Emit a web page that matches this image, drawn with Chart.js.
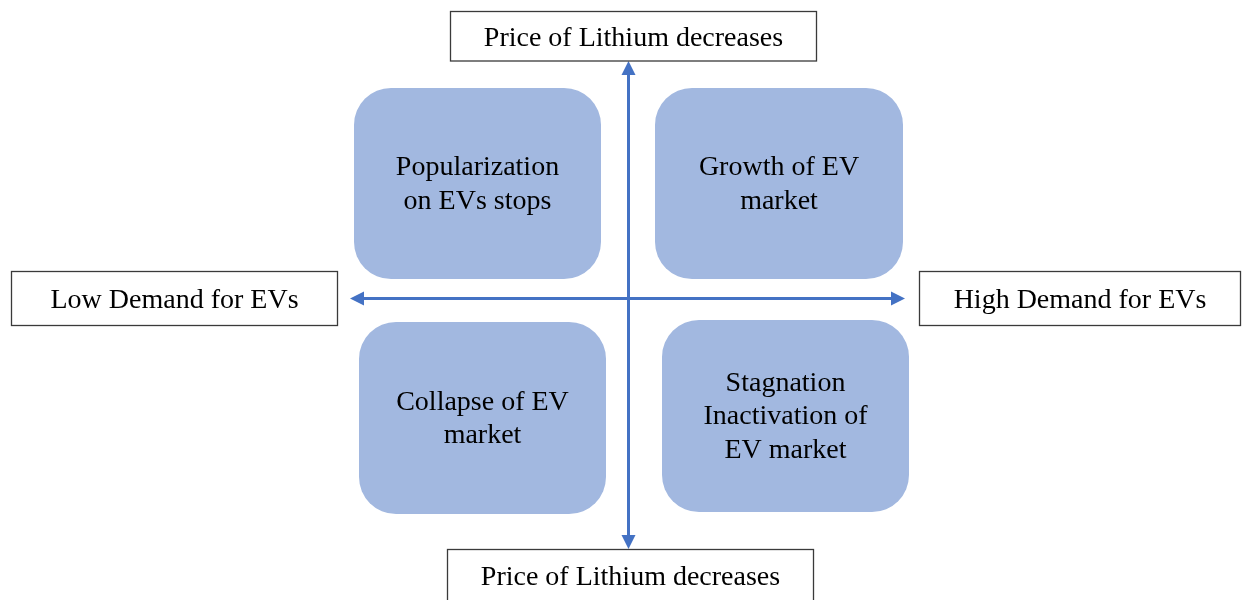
<!DOCTYPE html>
<html>
<head>
<meta charset="utf-8">
<script src="https://cdn.jsdelivr.net/npm/chart.js@4"></script>
<style>
html,body{margin:0;padding:0;background:#ffffff;}
#wrap{width:1242px;height:600px;}
</style>
</head>
<body>
<div id="wrap"><canvas id="c" width="1242" height="600"></canvas></div>
<script>
// ---- diagram content ----
const axisLabelsTop = ["Price of Lithium decreases"];
const axisLabelsBottom = ["Price of Lithium decreases"];
const axisLabelLeft = ["Low Demand for EVs"];
const axisLabelRight = ["High Demand for EVs"];
const quadrantLabels = [
  ["Popularization", "on EVs stops"],
  ["Growth of EV", "market"],
  ["Collapse of EV", "market"],
  ["Stagnation", "Inactivation of", "EV market"]
];
// axis end points (diagram coordinate space)
const verticalAxisX = [628.5, 628.5];
const verticalAxisY = [61, 549];
const horizontalAxisX = [350, 905];
const horizontalAxisY = [298.5, 298.5];

// layout of boxes in diagram coordinate space
const layout = {
  quadrants: [
    {x0: 354, x1: 601, y0: 88, y1: 279},
    {x0: 655, x1: 903, y0: 88, y1: 279},
    {x0: 359, x1: 606, y0: 322, y1: 514},
    {x0: 662, x1: 909, y0: 320, y1: 512}
  ],
  labelBoxes: [
    {x0: 450.5, x1: 816.5, y0: 11.5, y1: 61, text: axisLabelsTop[0]},
    {x0: 447.5, x1: 813.5, y0: 549.5, y1: 601, text: axisLabelsBottom[0]},
    {x0: 11.5, x1: 337.5, y0: 271.5, y1: 325.5, text: axisLabelLeft[0]},
    {x0: 919.5, x1: 1240.5, y0: 271.5, y1: 325.5, text: axisLabelRight[0]}
  ]
};

const style = {
  arrow: '#4472C4',
  fill: '#A2B8E0',
  border: '#3a3a3a',
  font: '28px "Liberation Serif", "Times New Roman", serif',
  text: '#000000'
};

const diagramPlugin = {
  id: 'diagram',
  beforeDatasetsDraw(chart) {
    const ctx = chart.ctx, xs = chart.scales.x, ys = chart.scales.y;
    ctx.save();
    layout.quadrants.forEach((q) => {
      const x0 = xs.getPixelForValue(q.x0), x1 = xs.getPixelForValue(q.x1);
      const y0 = ys.getPixelForValue(q.y0), y1 = ys.getPixelForValue(q.y1);
      ctx.beginPath();
      ctx.roundRect(x0, y0, x1 - x0, y1 - y0, 37);
      ctx.fillStyle = style.fill;
      ctx.fill();
    });
    ctx.restore();
  },
  afterDatasetsDraw(chart) {
    const ctx = chart.ctx, xs = chart.scales.x, ys = chart.scales.y;
    ctx.save();
    const heads = [
      [verticalAxisX[0], verticalAxisY[0], 0, -1],
      [verticalAxisX[1], verticalAxisY[1], 0, 1],
      [horizontalAxisX[0], horizontalAxisY[0], -1, 0],
      [horizontalAxisX[1], horizontalAxisY[1], 1, 0]
    ];
    ctx.fillStyle = style.arrow;
    heads.forEach(([vx, vy, dx, dy]) => {
      const px = xs.getPixelForValue(vx), py = ys.getPixelForValue(vy);
      const L = 14, W = 7;
      ctx.beginPath();
      ctx.moveTo(px, py);
      ctx.lineTo(px - dx * L - dy * W, py - dy * L - dx * W);
      ctx.lineTo(px - dx * L + dy * W, py - dy * L + dx * W);
      ctx.closePath();
      ctx.fill();
    });
    ctx.font = style.font;
    ctx.fillStyle = style.text;
    ctx.textAlign = 'center';
    ctx.textBaseline = 'middle';
    layout.quadrants.forEach((q, i) => {
      const cx = xs.getPixelForValue((q.x0 + q.x1) / 2);
      const cy = ys.getPixelForValue((q.y0 + q.y1) / 2) + 1;
      const lines = quadrantLabels[i];
      const lh = 33.5;
      lines.forEach((t, k) => {
        ctx.fillText(t, cx, cy + (k - (lines.length - 1) / 2) * lh);
      });
    });
    layout.labelBoxes.forEach(b => {
      const x0 = xs.getPixelForValue(b.x0), x1 = xs.getPixelForValue(b.x1);
      const y0 = ys.getPixelForValue(b.y0), y1 = ys.getPixelForValue(b.y1);
      ctx.fillStyle = '#ffffff';
      ctx.fillRect(x0, y0, x1 - x0, y1 - y0);
      ctx.strokeStyle = style.border;
      ctx.lineWidth = 1.3;
      ctx.strokeRect(x0, y0, x1 - x0, y1 - y0);
      ctx.fillStyle = style.text;
      ctx.fillText(b.text, (x0 + x1) / 2, (y0 + y1) / 2 + 2);
    });
    ctx.restore();
  }
};

const toPoints = (xa, ya) => xa.map((x, i) => ({x: x, y: ya[i]}));

new Chart(document.getElementById('c'), {
  type: 'scatter',
  data: {
    datasets: [
      {
        data: toPoints(verticalAxisX, [verticalAxisY[0] + 8, verticalAxisY[1] - 8]),
        showLine: true, borderColor: style.arrow, borderWidth: 3, pointRadius: 0, fill: false
      },
      {
        data: toPoints([horizontalAxisX[0] + 8, horizontalAxisX[1] - 8], horizontalAxisY),
        showLine: true, borderColor: style.arrow, borderWidth: 3, pointRadius: 0, fill: false
      }
    ]
  },
  options: {
    responsive: false,
    animation: false,
    devicePixelRatio: 1,
    layout: {padding: 0},
    plugins: {legend: {display: false}, tooltip: {enabled: false}, title: {display: false}},
    events: [],
    scales: {
      x: {type: 'linear', min: 0, max: 1242, display: false},
      y: {type: 'linear', min: 0, max: 600, reverse: true, display: false}
    }
  },
  plugins: [diagramPlugin]
});
</script>
</body>
</html>
